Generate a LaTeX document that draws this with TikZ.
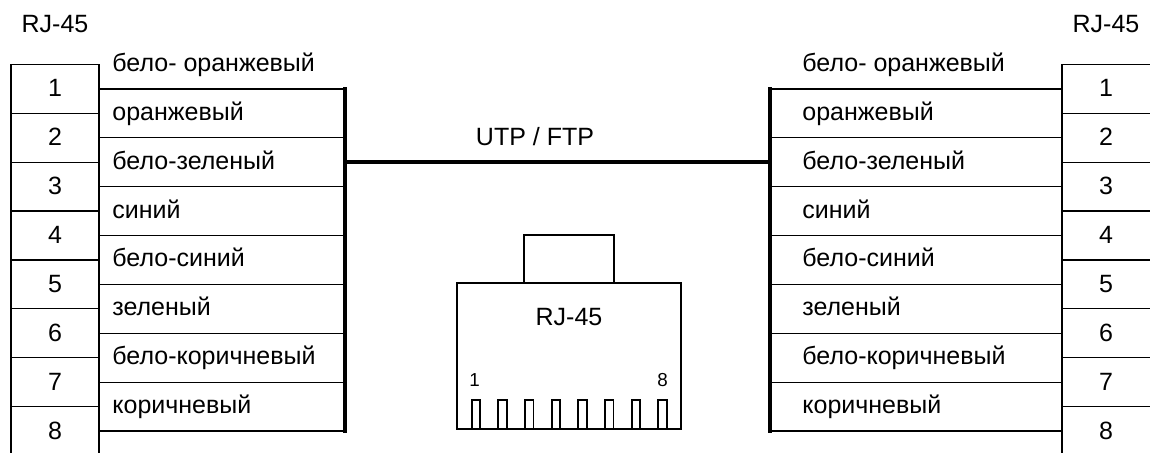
\documentclass[tikz,border=0pt]{standalone}
\usepackage{fontspec}
\setmainfont{Liberation Sans}
\usepackage{tikz}

\begin{document}
\begin{tikzpicture}[
  x=0.5pt, y=-0.5pt,
  every node/.style={inner sep=0pt, font=\fontsize{12.5}{14}\selectfont},
  wire/.style={line width=0.6pt},
  bus/.style={line width=1.7pt, line cap=rect},
  plug/.style={line width=0.9pt},
  pinnum/.style={font=\fontsize{9.4}{11}\selectfont}
]
  \useasboundingbox (0,0) rectangle (1150,453);
  \node[anchor=base] (ljack) at (55,33) {RJ-45};
  \node[anchor=base] (rjack) at (1106,33) {RJ-45};
  \draw[wire] (11,453) -- (11,64.5) -- (99,64.5) -- (99,453);
  \draw[wire] (1150,64.5) -- (1062,64.5) -- (1062,453);
  \foreach \k in {1,...,7} {
    \draw[wire] (11,64.5+\k*48.86) -- (99,64.5+\k*48.86);
    \draw[wire] (1062,64.5+\k*48.86) -- (1150,64.5+\k*48.86);
  }
  \foreach \lbl [count=\n] in {бело- оранжевый, оранжевый, бело-зеленый, синий, бело-синий, зеленый, бело-коричневый, коричневый} {
    \pgfmathsetmacro{\wy}{40.14+\n*48.86}
    \coordinate (lw\n) at (99,\wy);
    \coordinate (lb\n) at (345,\wy);
    \coordinate (rb\n) at (770,\wy);
    \coordinate (rw\n) at (1062,\wy);
    \draw[wire] (lw\n) -- (lb\n);
    \draw[wire] (rb\n) -- (rw\n);
    \node[anchor=base west] (lcol\n) at (112,\wy-17.5) {\lbl};
    \node[anchor=base west] (rcol\n) at (802,\wy-17.5) {\lbl};
    \node[anchor=base] (lnum\n) at (55,\wy+8) {\n};
    \node[anchor=base] (rnum\n) at (1106,\wy+8) {\n};
  }
  \draw[bus] (lb1) -- (lb8);
  \draw[bus] (rb1) -- (rb8);
  \coordinate (lcab) at (345,162);
  \coordinate (rcab) at (770,162);
  \draw[bus, line cap=butt] (lcab) -- (rcab);
  \node[anchor=base] (cable) at (535,145.5) {UTP / FTP};
  \draw[plug] (457,429) -- (457,283) -- (681,283) -- (681,429) -- cycle;
  \draw[plug] (524,283) -- (524,235) -- (614,235) -- (614,283);
  \foreach \p in {0,...,7}
    \draw[plug] (471.7+\p*26.66,429) -- ++(0,-29) -- ++(8.5,0) -- ++(0,29);
  \node[anchor=base] (plug) at (569,326) {RJ-45};
  \node[pinnum, anchor=base] (pin1) at (474.5,387) {1};
  \node[pinnum, anchor=base] (pin8) at (662.5,387) {8};
\end{tikzpicture}
\end{document}
